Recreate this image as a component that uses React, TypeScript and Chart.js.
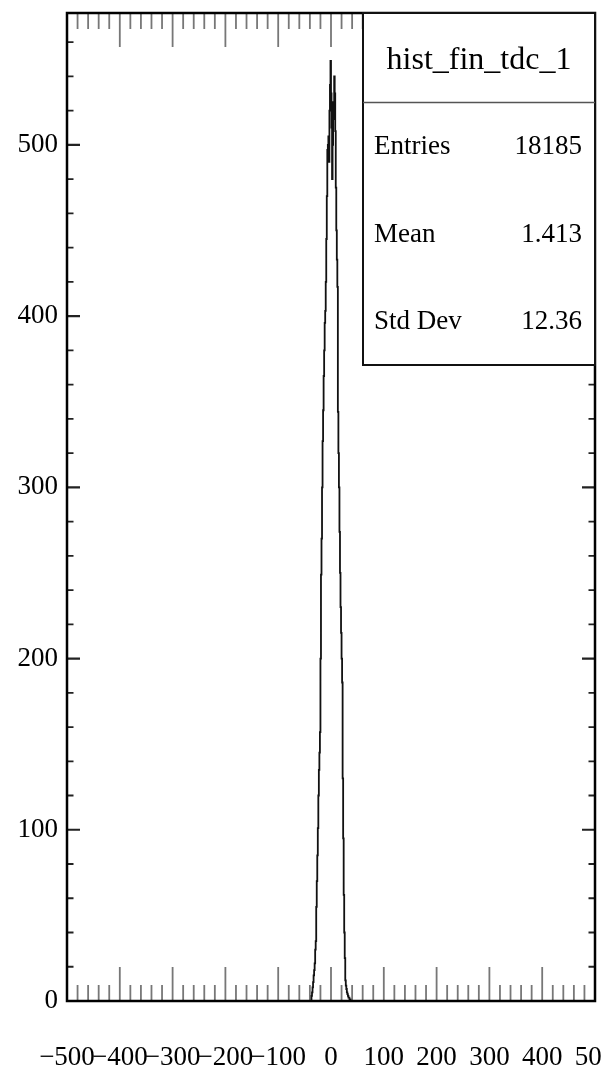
import React, { useEffect, useRef } from 'react';
import { Chart, registerables } from 'chart.js';

Chart.register(...registerables);

// ---- data ----
const X_MIN = -500;
const X_MAX = 500;
const Y_MIN = 0;
const Y_MAX = 577;
const BIN_WIDTH = 1;
const FIRST_BIN_LOW_EDGE = -37;
// counts of consecutive 1-unit bins starting at FIRST_BIN_LOW_EDGE (all other bins empty)
const binCounts = [
  3, 5, 8, 11, 15, 18, 22, 30, 35, 55, 70, 85, 101, 120, 135, 145, 157,
  200, 249, 270, 300, 327, 345, 365, 380, 396, 403, 420, 445, 470, 497, 500, 505, 490, 520, 535, 549,
  530, 510, 480, 500, 525, 515, 540, 530, 508, 475, 450, 433, 417,
  344, 320, 300, 274, 250, 230, 215, 200, 186, 130, 95, 62, 40, 25, 12, 9, 7, 5, 4, 3, 2, 2, 1, 1,
];
const xTickLabels = [-500, -400, -300, -200, -100, 0, 100, 200, 300, 400, 500];
const yTickLabels = [0, 100, 200, 300, 400, 500];
const X_MAJOR_STEP = 100;
const X_MINOR_STEP = 20;
const Y_MAJOR_STEP = 100;
const Y_MINOR_STEP = 20;
const statsTitle = 'hist_fin_tdc_1';
const statsNames = ['Entries', 'Mean', 'Std Dev'];
const statsValues = ['18185', '1.413', '12.36'];

const FONT = "'Liberation Serif', 'Times New Roman', serif";

function buildPoints() {
  const pts: { x: number; y: number }[] = [{ x: X_MIN, y: 0 }];
  binCounts.forEach((c, i) => pts.push({ x: FIRST_BIN_LOW_EDGE + i * BIN_WIDTH, y: c }));
  pts.push({ x: FIRST_BIN_LOW_EDGE + binCounts.length * BIN_WIDTH, y: 0 });
  pts.push({ x: X_MAX, y: 0 });
  return pts;
}

const rootFramePlugin = {
  id: 'rootFrame',
  beforeDatasetsDraw(chart: any) {
    const { ctx, chartArea: a } = chart;
    const xs = chart.scales.x;
    const ys = chart.scales.y;
    ctx.save();
    // x ticks (inward, bottom and top)
    ctx.strokeStyle = '#777';
    ctx.lineWidth = 1.8;
    for (let v = X_MIN; v <= X_MAX; v += X_MINOR_STEP) {
      const px = xs.getPixelForValue(v);
      const len = v % X_MAJOR_STEP === 0 ? 34 : 16;
      ctx.beginPath();
      ctx.moveTo(px, a.bottom);
      ctx.lineTo(px, a.bottom - len);
      ctx.moveTo(px, a.top);
      ctx.lineTo(px, a.top + len);
      ctx.stroke();
    }
    // y ticks (inward, left and right)
    ctx.strokeStyle = '#222';
    for (let v = Y_MIN; v <= Y_MAX; v += Y_MINOR_STEP) {
      const py = ys.getPixelForValue(v);
      const major = v % Y_MAJOR_STEP === 0;
      const len = major ? 13 : 6.5;
      ctx.lineWidth = major ? 2.2 : 1.8;
      ctx.beginPath();
      ctx.moveTo(a.left, py);
      ctx.lineTo(a.left + len, py);
      ctx.moveTo(a.right, py);
      ctx.lineTo(a.right - len, py);
      ctx.stroke();
    }
    ctx.restore();
  },
  afterDatasetsDraw(chart: any) {
    const { ctx, chartArea: a } = chart;
    ctx.save();
    // frame
    ctx.strokeStyle = '#000';
    ctx.lineWidth = 2.5;
    ctx.strokeRect(a.left, a.top, a.right - a.left, a.bottom - a.top);
    // stats box
    const bx = 363;
    const by = a.top;
    const bw = a.right - bx;
    const bh = 352;
    ctx.fillStyle = '#fff';
    ctx.fillRect(bx, by, bw, bh);
    ctx.strokeStyle = '#111';
    ctx.lineWidth = 2;
    ctx.strokeRect(bx, by, bw, bh);
    ctx.beginPath();
    ctx.lineWidth = 1.5;
    ctx.strokeStyle = '#555';
    ctx.moveTo(bx, by + 89.5);
    ctx.lineTo(bx + bw, by + 89.5);
    ctx.stroke();
    ctx.fillStyle = '#000';
    ctx.textBaseline = 'middle';
    ctx.textAlign = 'center';
    ctx.font = `32px ${FONT}`;
    ctx.fillText(statsTitle, bx + bw / 2, by + 48);
    ctx.font = `27px ${FONT}`;
    const rowY = [147, 235, 322];
    statsNames.forEach((n, i) => {
      ctx.textAlign = 'left';
      ctx.fillText(n, bx + 11, rowY[i]);
      ctx.textAlign = 'right';
      ctx.fillText(statsValues[i], bx + bw - 13, rowY[i]);
    });
    ctx.restore();
  },
};

export default function App() {
  const canvasRef = useRef<HTMLCanvasElement | null>(null);

  useEffect(() => {
    const canvas = canvasRef.current;
    if (!canvas) return;
    const chart = new Chart(canvas, {
      type: 'line',
      data: {
        datasets: [
          {
            data: buildPoints(),
            stepped: true,
            borderColor: '#111',
            borderWidth: 1.8,
            pointRadius: 0,
            fill: false,
          },
        ],
      },
      options: {
        responsive: false,
        animation: false,
        devicePixelRatio: 1,
        layout: { padding: { top: 13, right: 7, left: 0, bottom: 0 }, autoPadding: false },
        plugins: { legend: { display: false }, tooltip: { enabled: false } },
        scales: {
          x: {
            type: 'linear',
            min: X_MIN,
            max: X_MAX,
            grid: { display: false, drawTicks: false },
            border: { display: false },
            afterBuildTicks: (s: any) => {
              s.ticks = xTickLabels.map((v) => ({ value: v }));
            },
            afterFit: (s: any) => {
              s.height = 76;
              s.paddingLeft = 0;
              s.paddingRight = 0;
            },
            ticks: {
              autoSkip: false,
              maxRotation: 0,
              minRotation: 0,
              padding: 41,
              color: '#000',
              font: { family: FONT, size: 27 },
              callback: (v: any) => (Number(v) < 0 ? '\u2212' + Math.abs(Number(v)) : String(v)),
            },
          },
          y: {
            type: 'linear',
            min: Y_MIN,
            max: Y_MAX,
            grid: { display: false, drawTicks: false },
            border: { display: false },
            afterBuildTicks: (s: any) => {
              s.ticks = yTickLabels.map((v) => ({ value: v }));
            },
            afterFit: (s: any) => {
              s.width = 67;
              s.paddingTop = 0;
              s.paddingBottom = 0;
            },
            ticks: {
              padding: 9,
              color: '#000',
              font: { family: FONT, size: 27 },
              callback: (v: any) => String(v),
            },
          },
        },
      },
      plugins: [rootFramePlugin],
    });
    return () => chart.destroy();
  }, []);

  return (
    <div style={{ position: 'absolute', left: 0, top: 0, width: 602, height: 1077, background: '#fff' }}>
      <canvas ref={canvasRef} width={602} height={1077} style={{ display: 'block' }} />
    </div>
  );
}
